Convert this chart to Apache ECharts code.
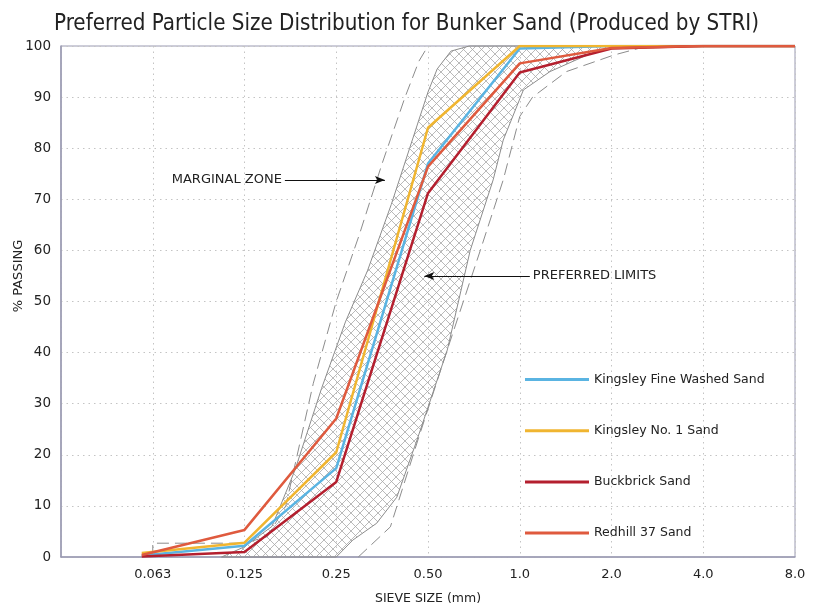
<!DOCTYPE html>
<html>
<head>
<meta charset="utf-8">
<script src="https://cdn.jsdelivr.net/npm/echarts@6/dist/echarts.min.js"></script>
<style>
html,body{margin:0;padding:0;background:#fff;}
#chart{width:813px;height:603px;}
</style>
</head>
<body>
<div id="chart"></div>
<script>
// sieve sizes in mm, placed one step apart on the x axis (index 1..8)
var sieveLabels = ['0.063', '0.125', '0.25', '0.50', '1.0', '2.0', '4.0', '8.0'];

// sample curves: [sieve index, % passing]
var kingsleyFine = [[0.88, 0.3], [2, 2.2], [3, 17.4], [4, 77], [5, 99.5], [6, 100], [7, 100], [8, 100]];
var kingsleyNo1 = [[0.88, 0.8], [2, 2.8], [3, 20.5], [4, 84], [5, 100], [6, 100], [7, 100], [8, 100]];
var buckbrick = [[0.88, 0.1], [2, 1.0], [3, 14.7], [4, 71.2], [5, 94.8], [6, 99.5], [7, 100], [8, 100]];
var redhill = [[0.88, 0.4], [2, 5.3], [3, 27.1], [4, 76.4], [5, 96.6], [6, 99.6], [7, 100], [8, 100]];

// marginal zone (dashed)
var marginFine = [[1, 0], [1, 2.7], [2, 2.7], [2.25, 4], [2.45, 10], [2.6, 22], [2.75, 34], [3, 50], [3.25, 63], [3.5, 77], [3.75, 90], [3.9, 97], [4, 100]];
var marginCoarse = [[3.24, 0], [3.59, 5.9], [3.89, 22.9], [4.2, 40], [4.57, 60], [4.82, 73.8], [5.0, 86.2], [5.14, 90], [5.51, 95], [6.02, 98.2], [6.31, 99.6], [6.96, 100]];

// preferred limits (hatched band)
var preferredFine = [[1.75, 0], [2.0, 2], [2.3, 6], [2.55, 17], [2.84, 33], [3.1, 46], [3.34, 56], [3.6, 69], [3.8, 80], [4.0, 91], [4.1, 95.5], [4.25, 99], [4.45, 100]];
var preferredCoarse = [[6.31, 100], [5.98, 99.6], [5.73, 98.2], [5.33, 95], [5.04, 91.4], [4.82, 81.6], [4.71, 73.8], [4.46, 60], [4.21, 40.5], [3.88, 22.9], [3.66, 11.7], [3.44, 6.6], [3.18, 3.3], [3.0, 0]];

var font = 'DejaVu Sans';

function hatch() {
    var c = document.createElement('canvas');
    c.width = 9; c.height = 9;
    var ctx = c.getContext('2d');
    ctx.strokeStyle = '#a8a8a8';
    ctx.lineWidth = 0.8;
    ctx.beginPath();
    ctx.moveTo(0, 0); ctx.lineTo(9, 9);
    ctx.moveTo(9, 0); ctx.lineTo(0, 9);
    ctx.stroke();
    return c;
}

function makeSerie(name, data, color) {
    return {
        name: name,
        type: 'line',
        data: data,
        symbol: 'none',
        z: 5,
        lineStyle: {color: color, width: 2.5},
        itemStyle: {color: color}
    };
}

var chart = echarts.init(document.getElementById('chart'));
var pattern = hatch();

var option = {
    animation: false,
    title: {
        text: 'Preferred Particle Size Distribution for Bunker Sand (Produced by STRI)',
        left: 'center',
        top: 8,
        textStyle: {fontFamily: 'DejaVu Sans Condensed', fontSize: 22.2, fontWeight: 'normal', color: '#222'}
    },
    grid: {left: 61, right: 18, top: 46, bottom: 46, outerBoundsMode: 'none', show: true, borderColor: '#9a9ab2', borderWidth: 1},
    legend: {
        orient: 'vertical',
        left: 520,
        top: 368,
        icon: 'rect',
        itemWidth: 64,
        itemHeight: 3,
        itemGap: 38.2,
        textStyle: {fontFamily: font, fontSize: 12.5, color: '#222'},
        data: ['Kingsley Fine Washed Sand', 'Kingsley No. 1 Sand', 'Buckbrick Sand', 'Redhill 37 Sand']
    },
    xAxis: {
        type: 'value',
        min: 0,
        max: 8,
        interval: 1,
        name: 'SIEVE SIZE (mm)',
        nameLocation: 'middle',
        nameGap: 35,
        nameTextStyle: {fontFamily: font, fontSize: 12.5, color: '#222'},
        axisLine: {lineStyle: {color: '#9a9ab2', width: 1.5}},
        axisTick: {show: false},
        axisLabel: {
            fontFamily: font, fontSize: 13, color: '#222', margin: 11,
            formatter: function (v) { return v >= 1 ? sieveLabels[v - 1] : ''; }
        },
        splitLine: {show: true, lineStyle: {color: '#c4c4c4', type: [1.5, 4]}}
    },
    yAxis: {
        type: 'value',
        min: 0,
        max: 100,
        interval: 10,
        axisLine: {show: true, lineStyle: {color: '#9a9ab2', width: 1.5}},
        axisTick: {show: false},
        axisLabel: {fontFamily: font, fontSize: 13.5, color: '#222', margin: 10},
        splitLine: {show: true, lineStyle: {color: '#c4c4c4', type: [1.5, 4]}}
    },
    graphic: [{
        type: 'text',
        x: 19, y: 276,
        rotation: Math.PI / 2,
        style: {text: '% PASSING', font: '13px "DejaVu Sans"', fill: '#222', align: 'center', verticalAlign: 'middle'}
    }],
    series: [
        {
            name: 'preferred',
            type: 'custom',
            z: 2,
            silent: true,
            data: [0],
            renderItem: function (params, api) {
                var pts = preferredFine.concat(preferredCoarse).map(function (p) { return api.coord(p); });
                return {
                    type: 'polygon',
                    shape: {points: pts},
                    style: {fill: {image: pattern, repeat: 'repeat'}, stroke: '#8c8c8c', lineWidth: 1}
                };
            }
        },
        {
            name: 'marginFine', type: 'line', data: marginFine, symbol: 'none', z: 3, silent: true,
            lineStyle: {color: '#8c8c8c', width: 1, type: [12, 6]}
        },
        {
            name: 'marginCoarse', type: 'line', data: marginCoarse, symbol: 'none', z: 3, silent: true,
            lineStyle: {color: '#8c8c8c', width: 1, type: [12, 6]},
            markLine: {
                silent: true,
                symbol: ['none', 'arrow'],
                symbolSize: [6, 10],
                lineStyle: {color: '#111', width: 1, type: 'solid'},
                label: {show: true, position: 'start', formatter: '{b}', fontFamily: font, fontSize: 13, color: '#222', distance: 3},
                data: [
                    [{coord: [2.44, 73.8], name: 'MARGINAL ZONE'}, {coord: [3.53, 73.8]}],
                    [{coord: [5.11, 55], name: 'PREFERRED LIMITS'}, {coord: [3.96, 55]}]
                ]
            }
        },
        makeSerie('Kingsley Fine Washed Sand', kingsleyFine, '#5ab4e2'),
        makeSerie('Kingsley No. 1 Sand', kingsleyNo1, '#f0b530'),
        makeSerie('Buckbrick Sand', buckbrick, '#b41f2e'),
        makeSerie('Redhill 37 Sand', redhill, '#df5a3e')
    ]
};
chart.setOption(option);
</script>
</body>
</html>
